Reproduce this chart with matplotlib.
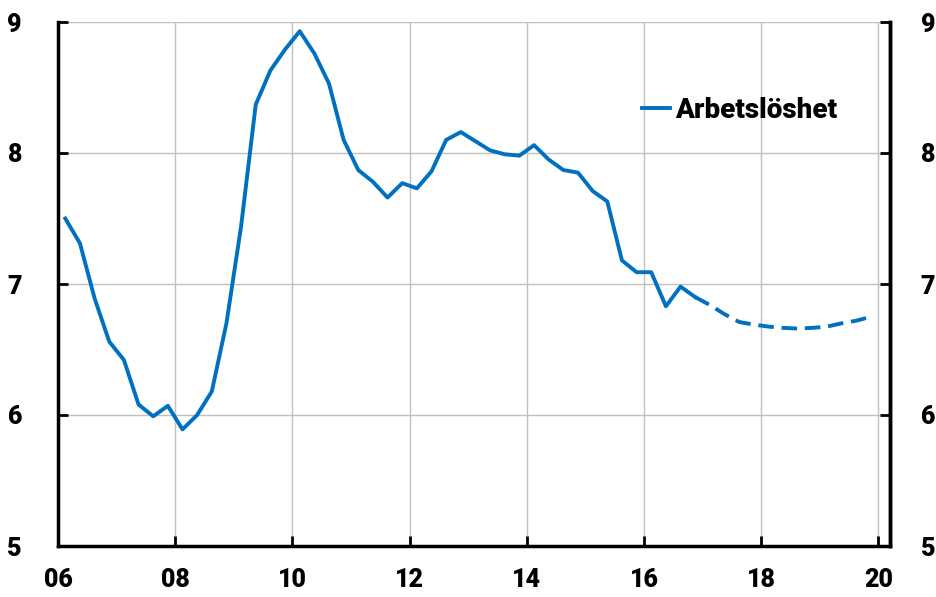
import numpy as np
import matplotlib
matplotlib.use("Agg")
import matplotlib.pyplot as plt

plt.rcParams['font.family'] = ['Roboto', 'DejaVu Sans']
plt.rcParams['font.weight'] = 'heavy'

# kvartalsdata, arbetslöshet (%), 2006 K1 - 2016 K4
utfall = [7.50, 7.31, 6.89, 6.56, 6.42, 6.08, 5.99, 6.07, 5.89, 6.00, 6.18, 6.70,
          7.44, 8.37, 8.63, 8.79, 8.93, 8.76, 8.53, 8.10, 7.87, 7.78, 7.66, 7.77,
          7.73, 7.86, 8.10, 8.16, 8.09, 8.02, 7.99, 7.98, 8.06, 7.95, 7.87, 7.85,
          7.71, 7.63, 7.18, 7.09, 7.09, 6.83, 6.98, 6.90]
# prognos 2016 K4 - 2019 K4
prognos = [6.90, 6.84, 6.77, 6.71, 6.69, 6.675, 6.665, 6.66, 6.665, 6.675,
           6.70, 6.72, 6.75]
start_ar = 2006
xticks = [2006, 2008, 2010, 2012, 2014, 2016, 2018, 2020]
xticklabels = ['06', '08', '10', '12', '14', '16', '18', '20']
yticks = [5, 6, 7, 8, 9]

blue = '#0070C0'
t_utfall = start_ar + 0.125 + 0.25 * np.arange(len(utfall))
t_prognos = t_utfall[-1] + 0.25 * np.arange(len(prognos))

fig = plt.figure(figsize=(9.37, 5.97), dpi=100)
ax = fig.add_axes([58 / 937, 51 / 597, (890 - 58) / 937, (546 - 22) / 597])

ax.plot(t_utfall, utfall, color=blue, lw=2.8, label='Arbetslöshet', zorder=3)
ax.plot(t_prognos, prognos, color=blue, lw=2.8, dashes=(4, 2), zorder=3)

ax.set_xlim(2006, 2020.2)
ax.set_ylim(5, 9)
ax.set_xticks(xticks)
ax.set_xticklabels(xticklabels)
ax.set_yticks(yticks)
ax.grid(True, color='#c0c0c0', lw=1)
ax.set_axisbelow(True)

for s in ['left', 'bottom', 'right']:
    ax.spines[s].set_linewidth(2.5)
ax.spines['top'].set_visible(False)
ax.tick_params(axis='both', direction='in', length=7, width=2, labelsize=18, pad=16)
ax.tick_params(axis='y', pad=26)

ax2 = ax.twinx()
ax2.set_ylim(5, 9)
ax2.set_yticks(yticks)
ax2.spines['top'].set_visible(False)
ax2.spines['right'].set_linewidth(2.5)
ax2.tick_params(axis='y', direction='in', length=7, width=2, labelsize=18, pad=22)

leg = ax.legend(loc='upper left', bbox_to_anchor=(0.672, 0.905), frameon=False,
                prop={'size': 20, 'weight': 'heavy'}, handlelength=1.0, handletextpad=0.2)

fig.savefig('out.png', dpi=100)
